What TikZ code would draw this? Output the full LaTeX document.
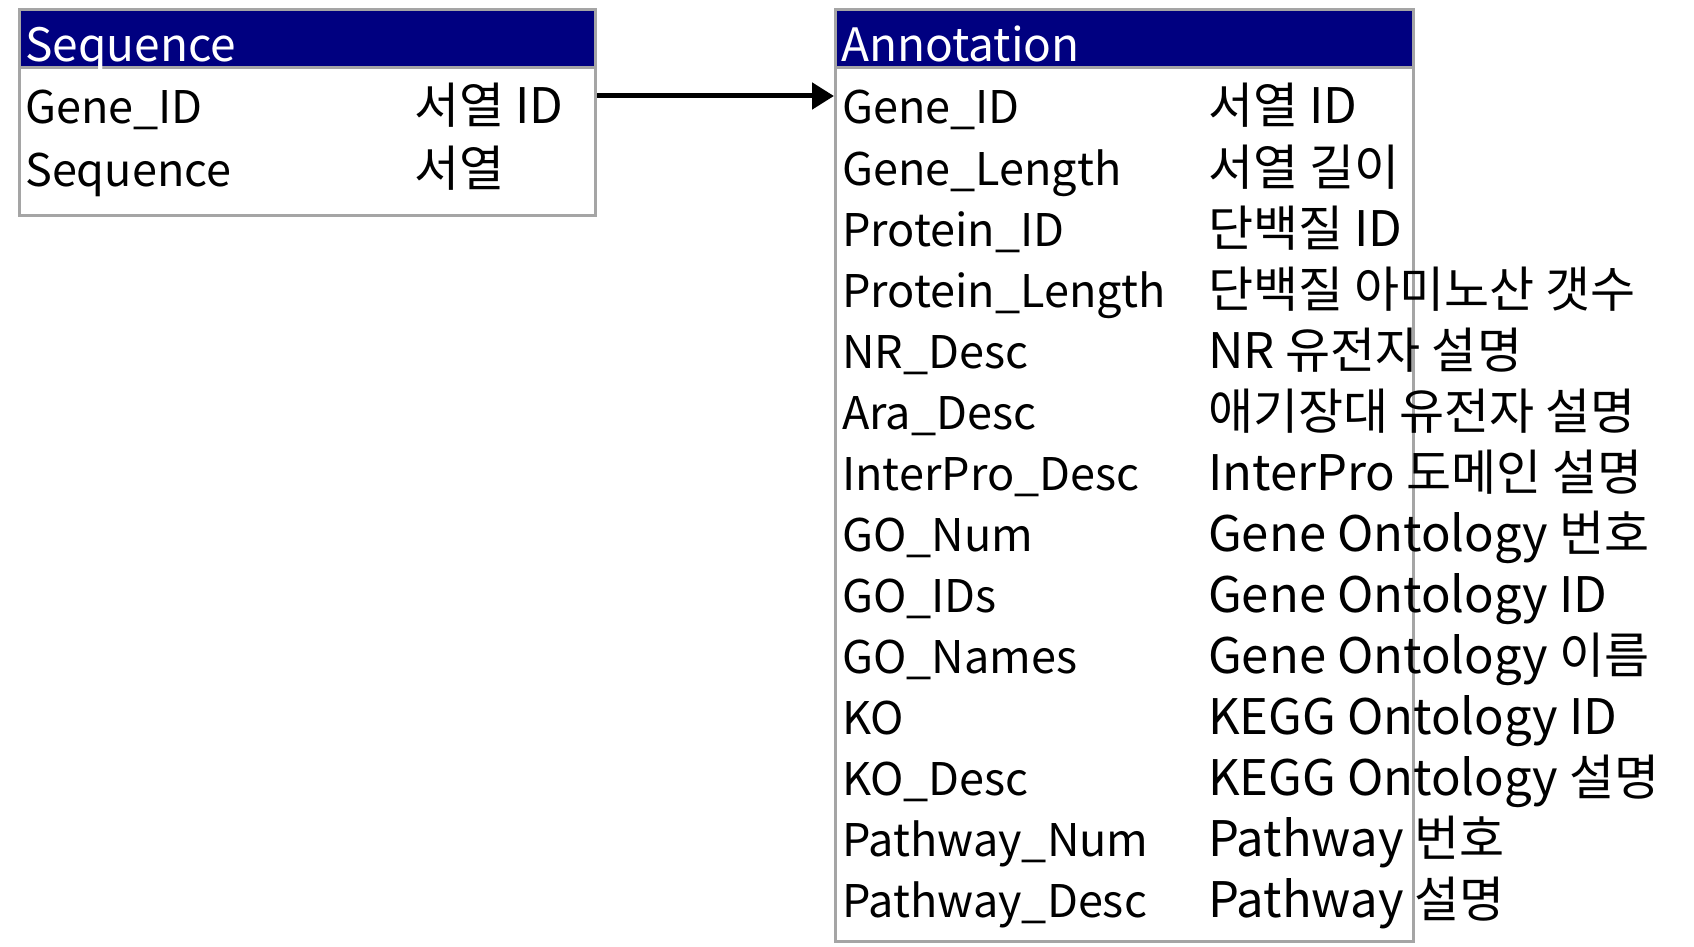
\documentclass[tikz,border=0pt]{standalone}
\usepackage{fontspec}
\setmainfont{Noto Sans CJK KR}
\usetikzlibrary{arrows.meta}
\definecolor{hdr}{RGB}{0,0,128}
\definecolor{frame}{RGB}{165,165,165}
\begin{document}
\begin{tikzpicture}[x=1pt,y=-1pt,
  tbl/.style={draw=frame,line width=3pt,fill=white,inner sep=0pt,anchor=north west},
  hd/.style={draw=frame,line width=3pt,fill=hdr,inner sep=0pt,anchor=north west},
  fld/.style={anchor=base west,inner sep=0pt,font=\fontsize{45}{54}\selectfont},
  dsc/.style={anchor=base west,inner sep=0pt,font=\fontsize{49}{58}\selectfont},
  ttl/.style={anchor=base west,inner sep=0pt,font=\fontsize{46}{55}\selectfont,text=white},
  conn/.style={line width=5pt,-{Triangle[length=22pt,width=26pt]}}]
\useasboundingbox[fill=white] (0,0) rectangle (1694,947);
% Sequence table
\node[tbl,minimum width=576pt,minimum height=148pt] (seqbody) at (18,66) {};
\node[hd,minimum width=576pt,minimum height=58pt] (seqhead) at (18,8) {};
\begin{scope}
\clip (seqhead.north west) rectangle (seqhead.south east);
\node[ttl] (seqtitle) at (25,62) {Sequence};
\end{scope}
\node[fld] (sf0) at (25,124) {Gene\_ID};
\node[dsc] (sd0) at (414,124) {서열 ID};
\node[fld] (sf1) at (25,186) {Sequence};
\node[dsc] (sd1) at (414,186) {서열};
% Annotation table
\node[tbl,minimum width=578pt,minimum height=874pt] (annbody) at (834,66) {};
\node[hd,minimum width=578pt,minimum height=58pt] (annhead) at (834,8) {};
\begin{scope}
\clip (annhead.north west) rectangle (annhead.south east);
\node[ttl] (anntitle) at (841,62) {Annotation};
\end{scope}
\foreach \f/\d [count=\i from 0] in {
  Gene\_ID/서열 ID,
  Gene\_Length/서열 길이,
  Protein\_ID/단백질 ID,
  Protein\_Length/단백질 아미노산 갯수,
  NR\_Desc/NR 유전자 설명,
  Ara\_Desc/애기장대 유전자 설명,
  InterPro\_Desc/InterPro 도메인 설명,
  GO\_Num/Gene Ontology 번호,
  GO\_IDs/Gene Ontology ID,
  GO\_Names/Gene Ontology 이름,
  KO/KEGG Ontology ID,
  KO\_Desc/KEGG Ontology 설명,
  Pathway\_Num/Pathway 번호,
  Pathway\_Desc/Pathway 설명}{
  \node[fld] (af\i) at (842,124+61*\i) {\f};
  \node[dsc] (ad\i) at (1208,124+61*\i) {\d};
}
% connector
\draw[conn] ([yshift=-30pt]seqbody.north east) -- ([yshift=-30pt]annbody.north west);
\end{tikzpicture}
\end{document}
